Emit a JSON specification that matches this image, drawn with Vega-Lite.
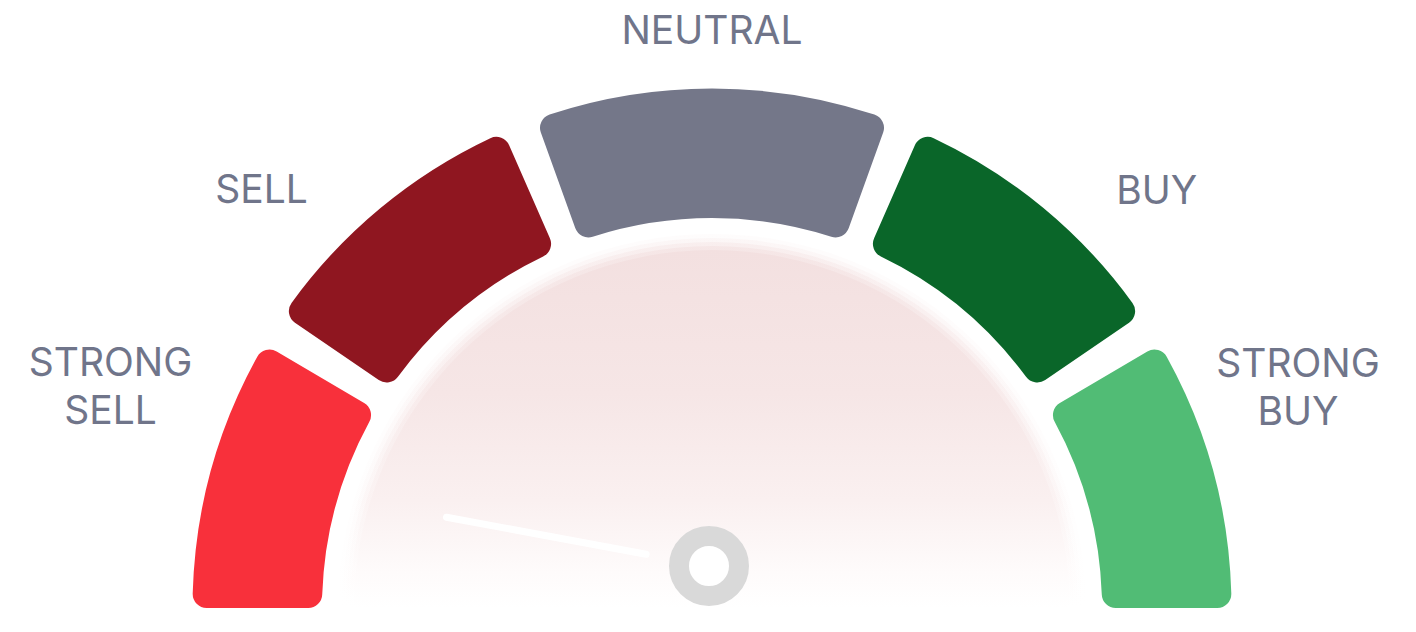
{
  "$schema": "https://vega.github.io/schema/vega-lite/v6.json",
  "width": 1408,
  "height": 608,
  "padding": {"left": 8, "top": 0, "right": 0, "bottom": 24},
  "autosize": "none",
  "background": "#ffffff",
  "config": {"view": {"stroke": null}},
  "datasets": {
    "bands": [
      {"rating": "STRONG SELL", "from": -1, "to": -0.661},
      {"rating": "SELL", "from": -0.618, "to": -0.263},
      {"rating": "NEUTRAL", "from": -0.22, "to": 0.22},
      {"rating": "BUY", "from": 0.263, "to": 0.618},
      {"rating": "STRONG BUY", "from": 0.661, "to": 1}
    ],
    "reading": [{"value": -0.883}]
  },
  "layer": [
    {
      "data": {"name": "reading"},
      "mark": {"type": "arc", "x": {"expr": "width/2"}, "y": {"expr": "height"}, "theta": -1.5708, "theta2": 1.5708, "innerRadius": 0, "outerRadius": 374, "opacity": 0.1,
        "fill": {"gradient": "linear", "x1": 0, "y1": 0, "x2": 0, "y2": 1, "stops": [{"offset": 0, "color": "#F3E0E0"}, {"offset": 0.4, "color": "#F6E6E6"}, {"offset": 0.7, "color": "#FAF0F0"}, {"offset": 0.9, "color": "#FEFBFB"}, {"offset": 1, "color": "#FFFFFF"}]}},
      "encoding": {}
    },
    {
      "data": {"name": "reading"},
      "mark": {"type": "arc", "x": {"expr": "width/2"}, "y": {"expr": "height"}, "theta": -1.5708, "theta2": 1.5708, "innerRadius": 0, "outerRadius": 370, "opacity": 0.2,
        "fill": {"gradient": "linear", "x1": 0, "y1": 0, "x2": 0, "y2": 1, "stops": [{"offset": 0, "color": "#F3E0E0"}, {"offset": 0.4, "color": "#F6E6E6"}, {"offset": 0.7, "color": "#FAF0F0"}, {"offset": 0.9, "color": "#FEFBFB"}, {"offset": 1, "color": "#FFFFFF"}]}},
      "encoding": {}
    },
    {
      "data": {"name": "reading"},
      "mark": {"type": "arc", "x": {"expr": "width/2"}, "y": {"expr": "height"}, "theta": -1.5708, "theta2": 1.5708, "innerRadius": 0, "outerRadius": 366, "opacity": 0.35,
        "fill": {"gradient": "linear", "x1": 0, "y1": 0, "x2": 0, "y2": 1, "stops": [{"offset": 0, "color": "#F3E0E0"}, {"offset": 0.4, "color": "#F6E6E6"}, {"offset": 0.7, "color": "#FAF0F0"}, {"offset": 0.9, "color": "#FEFBFB"}, {"offset": 1, "color": "#FFFFFF"}]}},
      "encoding": {}
    },
    {
      "data": {"name": "reading"},
      "mark": {"type": "arc", "x": {"expr": "width/2"}, "y": {"expr": "height"}, "theta": -1.5708, "theta2": 1.5708, "innerRadius": 0, "outerRadius": 362, "opacity": 0.55,
        "fill": {"gradient": "linear", "x1": 0, "y1": 0, "x2": 0, "y2": 1, "stops": [{"offset": 0, "color": "#F3E0E0"}, {"offset": 0.4, "color": "#F6E6E6"}, {"offset": 0.7, "color": "#FAF0F0"}, {"offset": 0.9, "color": "#FEFBFB"}, {"offset": 1, "color": "#FFFFFF"}]}},
      "encoding": {}
    },
    {
      "data": {"name": "reading"},
      "mark": {"type": "arc", "x": {"expr": "width/2"}, "y": {"expr": "height"}, "theta": -1.5708, "theta2": 1.5708, "innerRadius": 0, "outerRadius": 358,
        "fill": {"gradient": "linear", "x1": 0, "y1": 0, "x2": 0, "y2": 1, "stops": [{"offset": 0, "color": "#F3E0E0"}, {"offset": 0.4, "color": "#F6E6E6"}, {"offset": 0.7, "color": "#FAF0F0"}, {"offset": 0.9, "color": "#FEFBFB"}, {"offset": 1, "color": "#FFFFFF"}]}},
      "encoding": {}
    },
    {
      "data": {"name": "bands"},
      "mark": {"type": "arc", "x": {"expr": "width/2"}, "y": {"expr": "height"}, "innerRadius": 390, "outerRadius": 519.5, "cornerRadius": 14},
      "encoding": {
        "theta": {"field": "from", "type": "quantitative", "stack": null, "scale": {"domain": [-1, 1], "range": [-1.5708, 1.5708]}},
        "theta2": {"field": "to"},
        "color": {"field": "rating", "type": "nominal", "legend": null,
          "scale": {"domain": ["STRONG SELL", "SELL", "NEUTRAL", "BUY", "STRONG BUY"], "range": ["#F8303B", "#8F1620", "#747789", "#0A6629", "#51BC75"]}}
      }
    },
    {
      "data": {"name": "reading"},
      "mark": {"type": "arc", "x": {"expr": "width/2 - 3"}, "y": {"expr": "height - 42"}, "innerRadius": 64, "outerRadius": 267, "fill": "transparent", "stroke": "#ffffff", "strokeWidth": 7, "strokeCap": "round", "strokeJoin": "round"},
      "encoding": {
        "theta": {"field": "value", "type": "quantitative", "stack": null, "scale": {"domain": [-1, 1], "range": [-1.5708, 1.5708]}},
        "theta2": {"field": "value"}
      }
    },
    {
      "data": {"name": "reading"},
      "mark": {"type": "arc", "x": {"expr": "width/2 - 3"}, "y": {"expr": "height - 42"}, "theta": 0, "theta2": 6.2832, "innerRadius": 0, "outerRadius": 30, "fill": "#ffffff", "stroke": "#D9D9D9", "strokeWidth": 20},
      "encoding": {}
    },
    {
      "data": {"name": "bands"},
      "mark": {"type": "text", "x": {"expr": "width/2"}, "y": {"expr": "height"}, "font": "Inter", "fontSize": 39, "color": "#70758A", "align": "center", "baseline": "middle", "lineBreak": " ", "lineHeight": 48},
      "encoding": {
        "text": {"field": "rating"},
        "theta": {"field": "from", "type": "quantitative", "stack": null, "scale": {"type": "linear", "domain": [-1, -0.618, -0.22, 0.263, 0.661], "range": [-1.1861, -0.8238, 0, 0.8186, 1.1771]}},
        "radius": {"field": "from", "type": "quantitative", "scale": {"type": "linear", "domain": [-1, -0.618, -0.22, 0.263, 0.661], "range": [648.9, 614, 576, 609, 634.6]}}
      }
    }
  ],
  "resolve": {"scale": {"theta": "independent", "radius": "independent", "color": "independent"}}
}
